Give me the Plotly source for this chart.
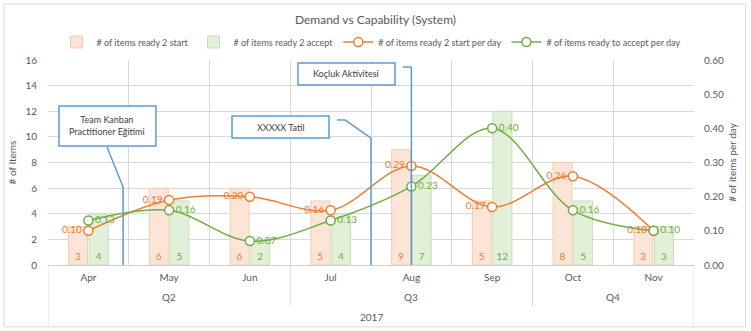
import plotly.graph_objects as go

months = ["Apr", "May", "Jun", "Jul", "Aug", "Sep", "Oct", "Nov"]
quarters = ["Q2", "Q3", "Q4"]
quarter_centers = [1.0, 4.0, 6.5]
year_label = "2017"
ready_start = [3, 6, 6, 5, 9, 5, 8, 3]
ready_accept = [4, 5, 2, 4, 7, 12, 5, 3]
start_per_day = [0.10, 0.19, 0.20, 0.16, 0.29, 0.17, 0.26, 0.10]
accept_per_day = [0.13, 0.16, 0.07, 0.13, 0.23, 0.40, 0.16, 0.10]

ORANGE = "#ED7D31"
GREEN = "#70AD47"
GRAY = "#595959"
BLUE = "#5B9BD5"
FONT = "Lato"

fig = go.Figure()
fig.add_trace(go.Bar(
    x=months, y=ready_start, name="# of items ready 2 start",
    marker=dict(color="#FCE4D6", line=dict(color="#F8CBAD", width=1)),
    text=[str(v) for v in ready_start], textposition="inside", insidetextanchor="start",
    textangle=0, constraintext="none",
    textfont=dict(color=ORANGE, size=10, family=FONT),
))
fig.add_trace(go.Bar(
    x=months, y=ready_accept, name="# of items ready 2 accept",
    marker=dict(color="#E2F0D9", line=dict(color="#C5E0B4", width=1)),
    text=[str(v) for v in ready_accept], textposition="inside", insidetextanchor="start",
    textangle=0, constraintext="none",
    textfont=dict(color=GREEN, size=10, family=FONT),
))
fig.add_trace(go.Scatter(
    x=months, y=start_per_day, name="# of items ready 2 start per day", yaxis="y2",
    mode="lines+markers+text", line=dict(color=ORANGE, width=1.5, shape="spline", smoothing=1),
    marker=dict(symbol="circle", size=9, color="white", line=dict(color=ORANGE, width=1.5)),
    text=[f"{v:.2f}" for v in start_per_day], textposition="middle left",
    textfont=dict(color=ORANGE, size=10, family=FONT),
))
fig.add_trace(go.Scatter(
    x=months, y=accept_per_day, name="# of items ready to accept per day", yaxis="y2",
    mode="lines+markers+text", line=dict(color=GREEN, width=1.5, shape="spline", smoothing=1),
    marker=dict(symbol="circle", size=9, color="white", line=dict(color=GREEN, width=1.5)),
    text=[f"{v:.2f}" for v in accept_per_day], textposition="middle right",
    textfont=dict(color=GREEN, size=10, family=FONT),
))

shapes = []
annotations = []

# chart border
shapes.append(dict(type="rect", xref="paper", yref="paper", x0=-0.068, x1=1.080, y0=-0.302, y1=1.273,
                   line=dict(color="#D9D9D9", width=1), layer="below"))

# category dividers below axis
for xv, yb in [(-0.5, -0.298), (2.5, -0.2), (5.5, -0.2), (7.5, -0.298)]:
    shapes.append(dict(type="line", xref="x", yref="paper", x0=xv, x1=xv, y0=0, y1=yb,
                       line=dict(color="#D9D9D9", width=1)))

for q, c in zip(quarters, quarter_centers):
    annotations.append(dict(text=q, xref="x", yref="paper", x=c, y=-0.156, showarrow=False,
                            xanchor="center", yanchor="middle",
                            font=dict(size=10, color=GRAY, family=FONT)))
annotations.append(dict(text=year_label, xref="x", yref="paper", x=3.5, y=-0.254, showarrow=False,
                        xanchor="center", yanchor="middle",
                        font=dict(size=10, color=GRAY, family=FONT)))

# callouts
callouts = [
    ("Team Kanban<br>Practitioner Eğitimi", (-0.364, 0.837, 9.29, 12.41),
     [(0.231, 9.21), (0.43, 6.09), (0.43, 0)]),
    ("XXXXX Tatil", (1.779, 2.980, 9.91, 11.63),
     [(3.079, 11.32), (3.178, 11.32), (3.5, 9.91), (3.5, 0)]),
    ("Koçluk Aktivitesi", (2.596, 3.797, 14.05, 15.77),
     [(3.896, 15.45), (4.0, 15.45), (4.0, 0)]),
]
for text, (x0, x1, y0, y1), pts in callouts:
    for (ax, ay), (bx, by) in zip(pts[:-1], pts[1:]):
        shapes.append(dict(type="line", xref="x", yref="y", x0=ax, y0=ay, x1=bx, y1=by,
                           line=dict(color=BLUE, width=1.5), layer="above"))
    shapes.append(dict(type="rect", xref="x", yref="y", x0=x0, x1=x1, y0=y0, y1=y1,
                       fillcolor="white", line=dict(color=BLUE, width=1.5), layer="above"))
    annotations.append(dict(text=text, xref="x", yref="y", x=(x0 + x1) / 2, y=(y0 + y1) / 2,
                            showarrow=False, xanchor="center", yanchor="middle",
                            font=dict(size=9, color="#404040", family=FONT)))

fig.update_layout(
    width=751, height=331,
    margin=dict(l=48, r=57, t=60, b=66, autoexpand=False),
    paper_bgcolor="white", plot_bgcolor="white",
    font=dict(family=FONT, size=10, color=GRAY),
    title=dict(text="Demand vs Capability (System)", x=0.5, xanchor="center",
               y=1 - 20 / 331, yanchor="middle", font=dict(size=12, color=GRAY, family=FONT)),
    barmode="group", bargap=0.49, bargroupgap=0.08,
    showlegend=True,
    legend=dict(orientation="h", x=0.5, xanchor="center",
                y=(265 - 42) / 205, yanchor="middle", itemwidth=30,
                tracegroupgap=0,
                font=dict(size=9, color=GRAY, family=FONT), bgcolor="rgba(0,0,0,0)",
                traceorder="normal"),
    xaxis=dict(type="category", tickson="boundaries", showgrid=True, gridcolor="#D9D9D9",
               ticks="", showline=True, linecolor="#D0D0D0", linewidth=1, ticklabelstandoff=3,
               tickfont=dict(size=10, color=GRAY), range=[-0.5, 7.5]),
    yaxis=dict(range=[0, 16], dtick=2, showgrid=True, gridcolor="#D9D9D9", zeroline=False,
               ticklabelstandoff=10,
               title=dict(text="# of Items", font=dict(size=10, color=GRAY), standoff=6),
               tickfont=dict(size=10, color=GRAY), ticks=""),
    yaxis2=dict(range=[0, 0.6], dtick=0.1, tickformat=".2f", overlaying="y", side="right",
                showgrid=False, zeroline=False, ticklabelstandoff=9,
                title=dict(text="# of items per day", font=dict(size=10, color=GRAY), standoff=6),
                tickfont=dict(size=10, color=GRAY), ticks=""),
    shapes=shapes, annotations=annotations,
)

fig.write_html("out.html")
